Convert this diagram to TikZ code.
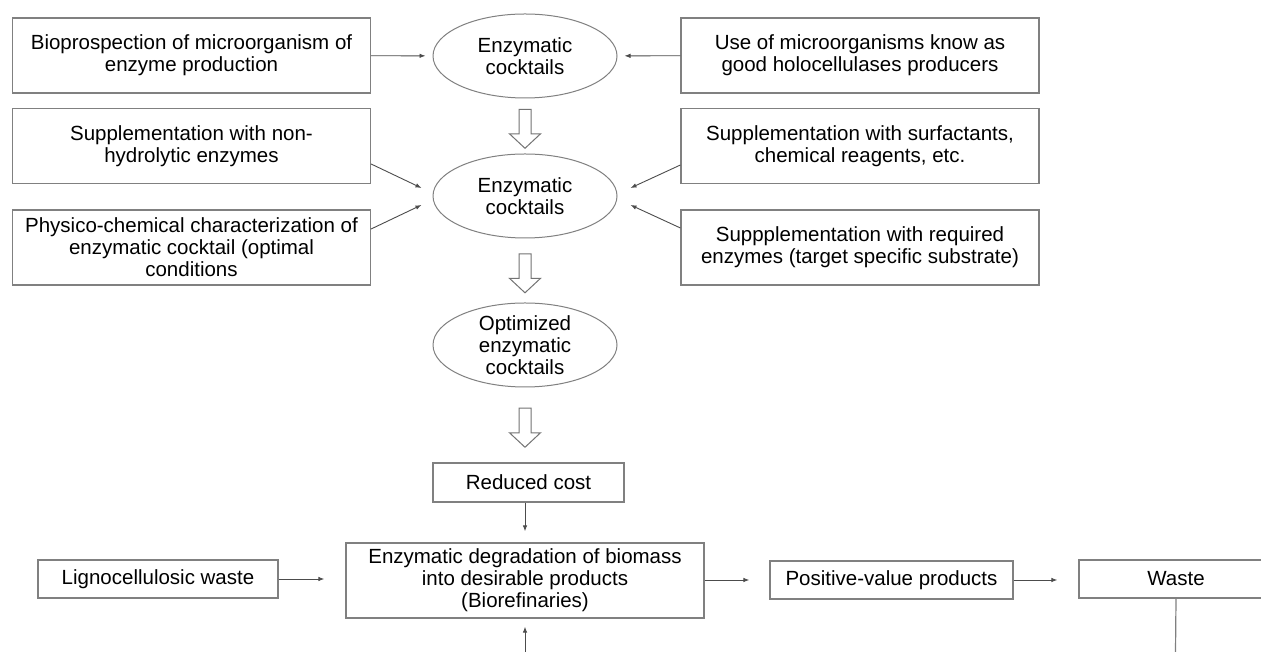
\documentclass[tikz,border=0pt]{standalone}
\usepackage{fontspec}
\setmainfont{Liberation Sans}
\usetikzlibrary{positioning, shapes.geometric, shapes.arrows, arrows.meta, calc}

\begin{document}
\begin{tikzpicture}[x=1pt, y=1pt,
  font=\fontsize{20.5}{22}\selectfont,
  box/.style={draw=black!50, line width=1.2pt, align=center, inner sep=0pt,
    minimum width=358pt, minimum height=75pt},
  smallbox/.style={box, minimum height=38pt},
  cocktail/.style={ellipse, draw=black!50, line width=1pt, align=center,
    inner sep=0pt, minimum width=184pt, minimum height=84pt},
  hollow/.style={single arrow, draw=black!55, line width=1pt,
    shape border rotate=270, inner sep=5.5pt, minimum height=39pt,
    single arrow head extend=9.5pt, single arrow tip angle=94},
  link/.style={draw=black!70, line width=0.9pt, -{Latex[length=6pt, width=4.5pt]}}]
  \path [fill=white, use as bounding box] (0,0) rectangle (1261,652);

  % first cocktail and its two sources
  \node (ell1) [cocktail] at (525,596) {Enzymatic\\cocktails};
  \node (bio) [box] at (191.5,596.5) {Bioprospection of microorganism of\\enzyme production};
  \node (use) [box] at (860,596.5) {Use of microorganisms know as\\good holocellulases producers};

  % second cocktail and the supplements
  \node (ell2) [cocktail] at (525,456) {Enzymatic\\cocktails};
  \node (nonhyd) [box] at (191.5,506) {Supplementation with non-\\hydrolytic enzymes};
  \node (physchem) [box] at (191.5,404.5) {Physico-chemical characterization of\\enzymatic cocktail (optimal\\conditions};
  \node (surf) [box] at (860,506) {Supplementation with surfactants,\\chemical reagents, etc.};
  \node (reqenz) [box] at (860,404.5) {Suppplementation with required\\enzymes (target specific substrate)};

  \node (ell3) [cocktail, inner ysep=-3pt] at (525,307) {Optimized\\enzymatic\\cocktails};

  % bottom row
  \node (cost) [smallbox, minimum width=191pt, minimum height=39pt] at (528.5,169.5) {Reduced cost};
  \node (degr) [box] at (525,71.5) {Enzymatic degradation of biomass\\into desirable products\\(Biorefinaries)};
  \node (ligno) [smallbox, minimum width=240pt] at (158,73) {Lignocellulosic waste};
  \node (posval) [smallbox, minimum width=243pt] at (891.5,72) {Positive-value products};
  \node (waste) [smallbox, minimum width=194pt] at (1176,73) {Waste};

  % hollow arrows down the middle
  \node (down1) [hollow] at ($(ell1.south)!0.5!(ell2.north)$) {};
  \node (down2) [hollow] at ($(ell2.south)!0.5!(ell3.north)$) {};
  \node (down3) [hollow] at ($(ell3.south)!0.5!(cost.north -| ell3.south)$) {};

  \draw [link, shorten >=7pt] (bio) -- (ell1);
  \draw [link, shorten >=7pt] (use) -- (ell1);
  \draw [link] ($(nonhyd.east)+(0,-18)$) -- ($(ell2.west)+(-11,8)$);
  \draw [link] ($(physchem.east)+(0,18.5)$) -- ($(ell2.west)+(-11,-9)$);
  \draw [link] ($(surf.west)+(0,-19)$) -- ($(ell2.east)+(13,8)$);
  \draw [link] ($(reqenz.west)+(0,19.5)$) -- ($(ell2.east)+(13,-9)$);

  \draw [link, shorten >=11pt] (cost.south -| degr.north) -- (degr.north);
  \draw [link, shorten >=21pt] (ligno.east) -- (ligno.east -| degr.west);
  \draw [link, shorten >=20pt] (degr.east |- posval.west) -- (posval.west);
  \draw [link, shorten >=21pt] (posval.east) -- (posval.east -| waste.west);

  \coordinate (feed) at (525,0);
  \draw [link, shorten >=8pt] (feed) -- (degr.south);
  \coordinate (wasteout) at (1175.5,0);
  \draw [draw=black!50, line width=1.2pt] (waste.south) -- (wasteout);
\end{tikzpicture}
\end{document}
